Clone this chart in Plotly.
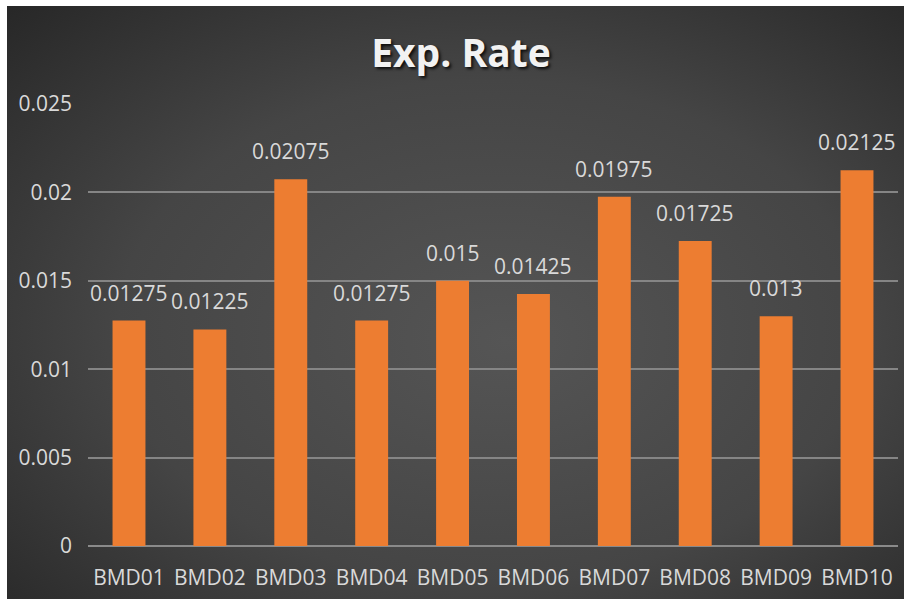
import base64
import plotly.graph_objects as go

categories = ["BMD01", "BMD02", "BMD03", "BMD04", "BMD05", "BMD06", "BMD07", "BMD08", "BMD09", "BMD10"]
values = [0.01275, 0.01225, 0.02075, 0.01275, 0.015, 0.01425, 0.01975, 0.01725, 0.013, 0.02125]
label_texts = ["0.01275", "0.01225", "0.02075", "0.01275", "0.015", "0.01425", "0.01975", "0.01725", "0.013", "0.02125"]
y_ticks = [0, 0.005, 0.01, 0.015, 0.02, 0.025]
y_tick_text = ["0", "0.005", "0.01", "0.015", "0.02", "0.025"]

W, H = 904, 599
ML, MR, MT, MB = 88, 6, 104, 53
PW, PH = W - ML - MR, H - MT - MB

svg = (
    '<svg xmlns="http://www.w3.org/2000/svg" width="910" height="610" viewBox="0 0 910 610" preserveAspectRatio="none">'
    '<defs><radialGradient id="g" cx="52%" cy="52%" r="75%" fx="55%" fy="55%">'
    '<stop offset="0%" stop-color="#555555"/>'
    '<stop offset="55%" stop-color="#454545"/>'
    '<stop offset="100%" stop-color="#262626"/>'
    '</radialGradient></defs>'
    '<rect width="910" height="610" fill="url(#g)"/></svg>'
)
src = "data:image/svg+xml;base64," + base64.b64encode(svg.encode()).decode()

fig = go.Figure()
fig.add_trace(go.Bar(
    x=categories, y=values,
    marker=dict(color="#ED7D31", line=dict(width=0)),
    hoverinfo="x+y",
))

for c, v, t in zip(categories, values, label_texts):
    fig.add_annotation(x=c, y=v, text=t, showarrow=False, yanchor="middle", yshift=28,
                       font=dict(family="Open Sans", size=21, color="#d9d9d9"))

x0 = (7 - ML) / PW
y_top = (H - MB - 6) / PH
fig.add_layout_image(dict(
    source=src, xref="paper", yref="paper", x=x0, y=y_top,
    sizex=(915 - 7) / PW, sizey=(615 - 6) / PH,
    xanchor="left", yanchor="top", sizing="stretch", layer="below",
))

# white frame strips at top and left (page edge)
px = lambda p: (p - ML) / PW
py = lambda p: (H - MB - p) / PH
fig.add_shape(type="rect", xref="paper", yref="paper", x0=px(-5), x1=px(W + 5), y0=py(6), y1=py(-5),
              fillcolor="white", line=dict(width=0), layer="below")
fig.add_shape(type="rect", xref="paper", yref="paper", x0=px(-5), x1=px(7), y0=py(H + 5), y1=py(-5),
              fillcolor="white", line=dict(width=0), layer="below")

fig.update_layout(
    width=W, height=H,
    margin=dict(l=ML, r=MR, t=MT, b=MB),
    paper_bgcolor="#2e2e2e",
    plot_bgcolor="rgba(0,0,0,0)",
    bargap=0.593,
    showlegend=False,
    title=dict(text="<b>Exp. Rate</b>", x=461 / W, xanchor="center", y=1 - 53 / H, yanchor="middle",
               font=dict(family="Open Sans", size=39, color="#f2f2f2", shadow="2px 2px 3px rgba(0,0,0,0.8)")),
    xaxis=dict(showgrid=False, zeroline=False, showline=False, ticks="",
               tickfont=dict(family="Open Sans", size=21, color="#d9d9d9"), ticklabelstandoff=17),
    yaxis=dict(range=[0, 0.025], tickvals=y_ticks, ticktext=y_tick_text,
               showgrid=True, gridcolor="#858585", gridwidth=1.5,
               zeroline=True, zerolinecolor="#8a8a8a", zerolinewidth=1.5,
               showline=False, ticks="",
               tickfont=dict(family="Open Sans", size=21, color="#d9d9d9"), ticklabelstandoff=15),
)

fig.write_html("out.html")
